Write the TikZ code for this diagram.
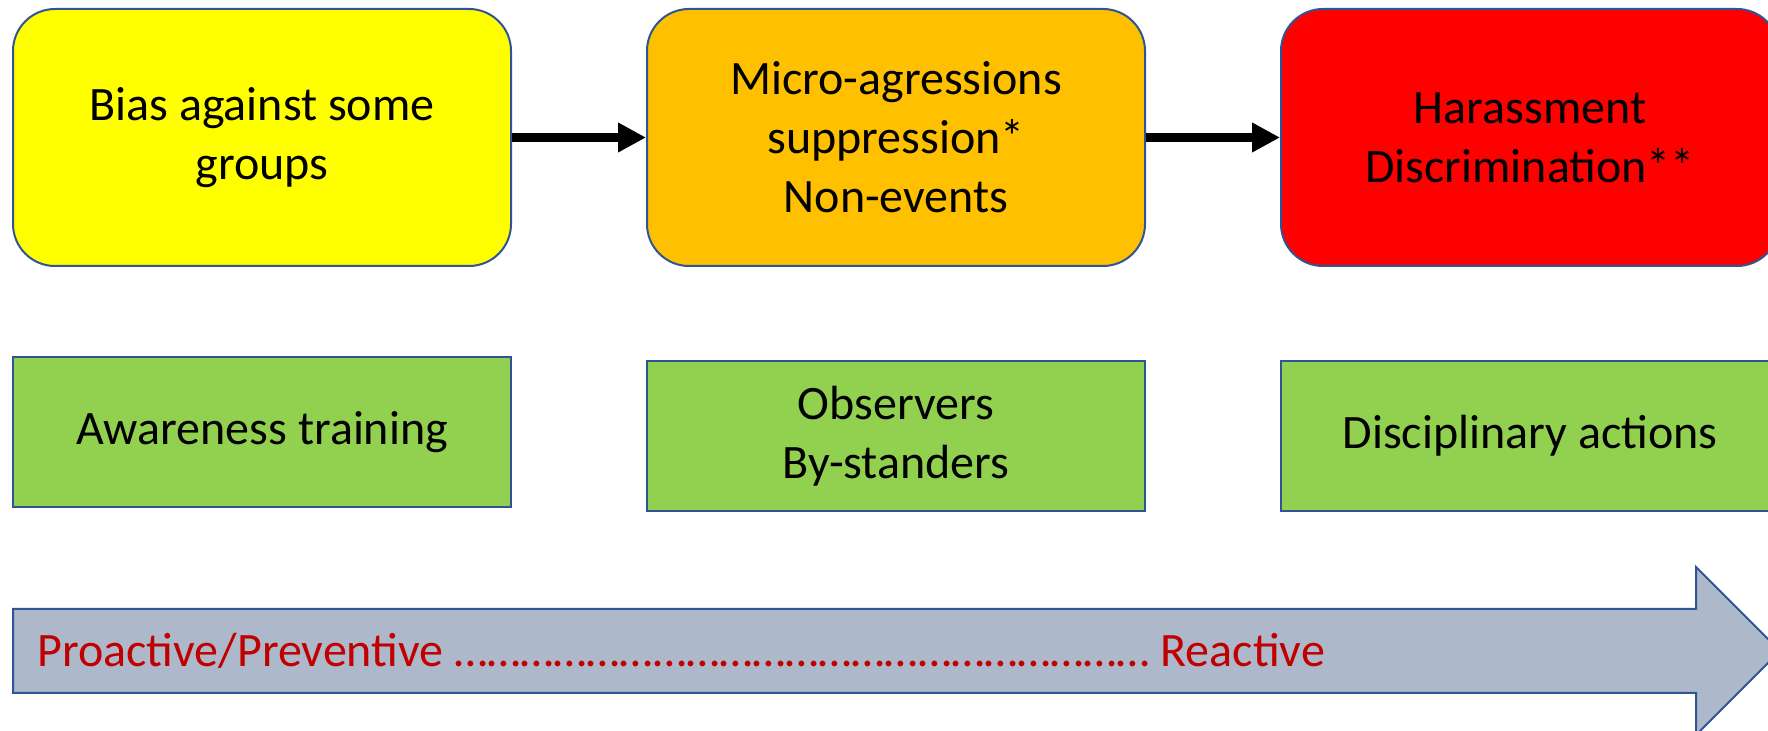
\documentclass[tikz,border=0pt]{standalone}
\usepackage{fontspec}
\setmainfont{Carlito}
\usetikzlibrary{arrows.meta}
\definecolor{bord}{HTML}{2F5597}
\definecolor{cyellow}{HTML}{FFFF00}
\definecolor{corange}{HTML}{FFC000}
\definecolor{cred}{HTML}{FF0000}
\definecolor{cgreen}{HTML}{92D050}
\definecolor{carrow}{HTML}{ADB9CA}
\definecolor{ctext}{HTML}{C00000}
\begin{document}
\begin{tikzpicture}[x=0.5pt,y=-0.5pt,
  topbox/.style={draw=bord,line width=1pt,rounded corners=21pt,minimum width=249pt,minimum height=128.5pt,align=center,inner sep=0pt,font=\fontsize{24}{29.5}\selectfont},
  greenbox/.style={draw=bord,line width=1pt,fill=cgreen,minimum width=249pt,minimum height=75pt,align=center,inner sep=0pt,font=\fontsize{24}{29.5}\selectfont},
  link/.style={line width=4.5pt,-{Triangle[length=14pt,width=14pt]}}]
\useasboundingbox (0,0) rectangle (1768,731);
\clip (0,0) rectangle (1768,731);
\node[topbox,fill=cyellow] (b1) at (262,137.5) {Bias against some\\groups};
\node[topbox,fill=corange] (b2) at (896,137.5) {Micro-agressions\\suppression*\\Non-events};
\node[topbox,fill=cred] (b3) at (1530,137.5) {Harassment\\Discrimination**};
\node[greenbox] (g1) at (262,432) {Awareness training};
\node[greenbox] (g2) at (896,436.5) {Observers\\By-standers};
\node[greenbox] (g3) at (1530,436) {Disciplinary actions};
\draw[link] (b1.east) -- (b2.west);
\draw[link] (b2.east) -- (b3.west);
\coordinate (a1) at (13,609);
\coordinate (a2) at (1696,609);
\coordinate (a3) at (1696,567);
\coordinate (a4) at (1780,651);
\coordinate (a5) at (1696,735);
\coordinate (a6) at (1696,693);
\coordinate (a7) at (13,693);
\draw[draw=bord,line width=1pt,fill=carrow,line join=miter] (a1) -- (a2) -- (a3) -- (a4) -- (a5) -- (a6) -- (a7) -- cycle;
\node[anchor=west,text=ctext,inner sep=0pt,font=\fontsize{24}{29}\selectfont] (t) at (37,651) {Proactive/Preventive ……………………………………………………… Reactive};
\end{tikzpicture}
\end{document}
